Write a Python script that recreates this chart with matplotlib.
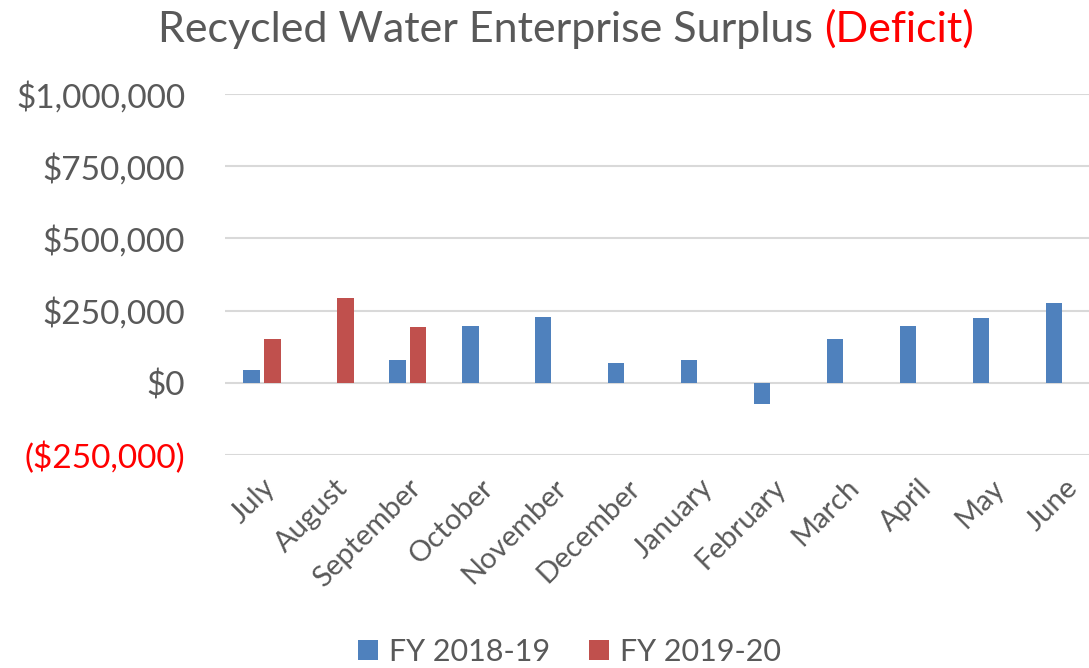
import matplotlib.pyplot as plt
from matplotlib.ticker import FuncFormatter

# donnees
mois = ['July', 'August', 'September', 'October', 'November', 'December',
        'January', 'February', 'March', 'April', 'May', 'June']
fy_2018_19 = [43000, 0, 79000, 198000, 227000, 70000,
              79000, -73000, 150000, 196000, 226000, 277000]
fy_2019_20 = [151000, 295000, 193000, None, None, None,
              None, None, None, None, None, None]
graduations = [-250000, 0, 250000, 500000, 750000, 1000000]

plt.rcParams['font.family'] = ['Lato', 'DejaVu Sans']
gris = '#595959'
bleu = '#4F81BD'
rouge = '#C0504D'

fig = plt.figure(figsize=(10.89, 6.68), dpi=100)
ax = fig.add_axes([0.207, 0.319, 0.793, 0.540])

x = list(range(len(mois)))
larg = 0.226
ax.bar([i - 0.143 for i in x], fy_2018_19, larg, color=bleu, label='FY 2018-19', zorder=3)
x2 = [i + 0.143 for i in x if fy_2019_20[i] is not None]
v2 = [v for v in fy_2019_20 if v is not None]
ax.bar(x2, v2, larg, color=rouge, label='FY 2019-20', zorder=3)

ax.set_xlim(-0.5, 11.34)
ax.set_ylim(-250000, 1000000)
ax.set_yticks(graduations)

def format_dollars(v, pos):
    if v < 0:
        return '(${:,.0f})'.format(-v)
    return '${:,.0f}'.format(v)

ax.yaxis.set_major_formatter(FuncFormatter(format_dollars))
ax.grid(axis='y', color='#D9D9D9', linewidth=1.5, zorder=0)
for s in ax.spines.values():
    s.set_visible(False)
ax.tick_params(axis='both', length=0, colors=gris, labelsize=24)
ax.tick_params(axis='y', pad=29)
ax.set_xticks(x)
ax.set_xticklabels(mois, rotation=45, ha='right', rotation_mode='anchor', fontsize=21)
ax.tick_params(axis='x', pad=14)
for lab in ax.get_yticklabels():
    if lab.get_text().startswith('('):
        lab.set_color('red')

# titre en deux couleurs
t1 = fig.text(0.757, 0.955, 'Recycled Water Enterprise Surplus ', ha='right', va='center',
              fontsize=31, color=gris)
fig.canvas.draw()
ax.annotate('(Deficit)', xy=(1, 0), xycoords=t1, va='bottom', ha='left',
            fontsize=31, color='red', annotation_clip=False)

ax.legend(loc='center', ncol=2, frameon=False, fontsize=22, labelcolor=gris,
          handlelength=0.65, handleheight=0.65, columnspacing=1.3, handletextpad=0.36)
leg = ax.get_legend()
leg.set_bbox_to_anchor((0.523, 0.024), transform=fig.transFigure)

fig.savefig('out.png', dpi=100)
